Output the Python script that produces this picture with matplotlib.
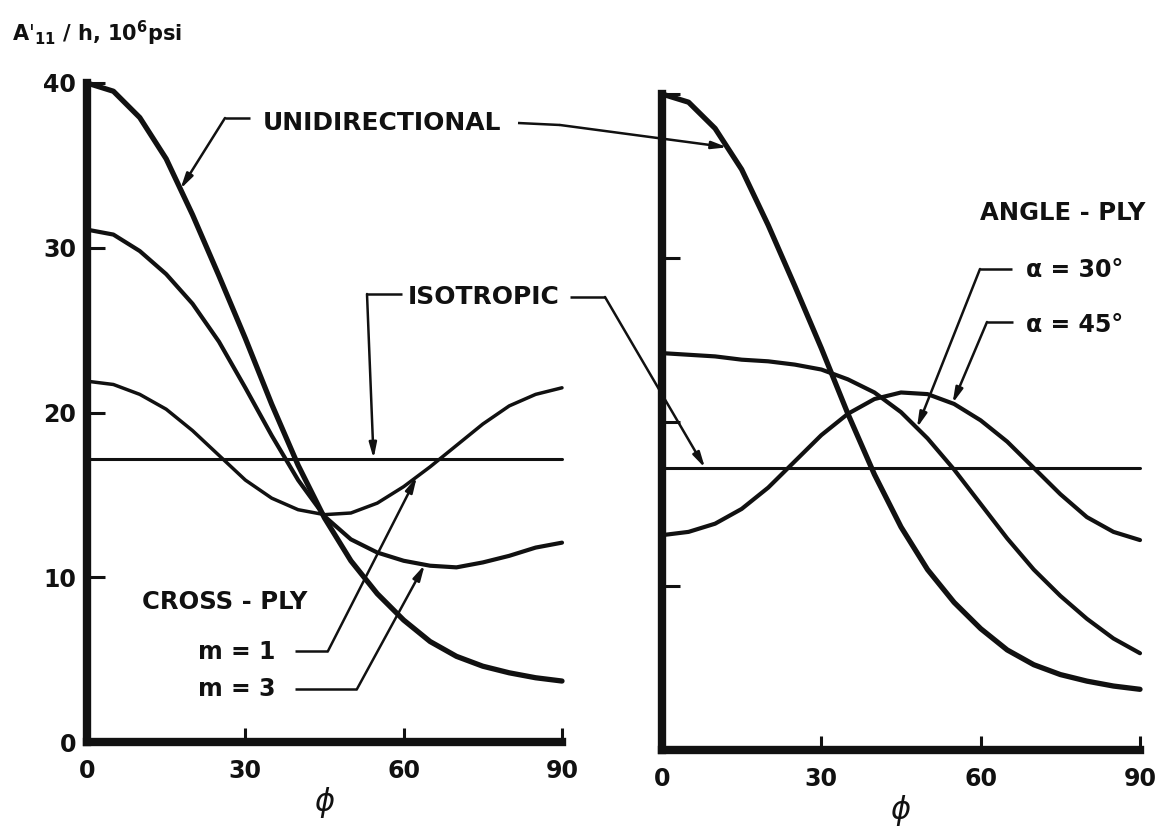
import numpy as np
import matplotlib
matplotlib.use("Agg")
import matplotlib.pyplot as plt
from matplotlib.lines import Line2D

# ---------------- data ----------------
PHI = [0, 5, 10, 15, 20, 25, 30, 35, 40, 45, 50, 55, 60, 65, 70, 75, 80, 85, 90]
UNIDIRECTIONAL = [40.0, 39.5, 37.9, 35.4, 32.0, 28.3, 24.5, 20.5, 16.8, 13.6,
                  11.0, 9.0, 7.4, 6.1, 5.2, 4.6, 4.2, 3.9, 3.7]
CROSS_PLY_M1 = [21.9, 21.7, 21.1, 20.2, 18.9, 17.4, 15.9, 14.8, 14.1, 13.8,
                13.9, 14.5, 15.5, 16.7, 18.0, 19.3, 20.4, 21.1, 21.5]
CROSS_PLY_M3 = [31.1, 30.8, 29.8, 28.4, 26.6, 24.3, 21.5, 18.6, 15.9, 13.7,
                12.3, 11.5, 11.0, 10.7, 10.6, 10.9, 11.3, 11.8, 12.1]
ANGLE_PLY_30 = [24.2, 24.1, 24.0, 23.8, 23.7, 23.5, 23.2, 22.6, 21.8, 20.6,
                19.0, 17.1, 15.0, 12.9, 11.0, 9.4, 8.0, 6.8, 5.9]
ANGLE_PLY_45 = [13.1, 13.3, 13.8, 14.7, 16.0, 17.6, 19.2, 20.5, 21.4, 21.8,
                21.7, 21.1, 20.1, 18.8, 17.2, 15.6, 14.2, 13.3, 12.8]
ISO_PHI = [0, 90]
ISOTROPIC = [17.2, 17.2]

X_TICKS = [0, 30, 60, 90]
X_TICK_LABELS = ["0", "30", "60", "90"]
Y_TICKS = [0, 10, 20, 30, 40]
Y_TICK_LABELS = ["0", "10", "20", "30", "40"]

# ---------------- figure ----------------
K = "#111111"
W, H = 1155, 827
plt.rcParams["font.family"] = ["DejaVu Sans"]
plt.rcParams["mathtext.fontset"] = "dejavusans"
fig = plt.figure(figsize=(W / 100, H / 100), dpi=100)
fig.patch.set_facecolor("white")


def fx(x):
    return x / W


def fy(y):
    return 1 - y / H


ax1 = fig.add_axes([87 / W, 1 - 742 / H, 475 / W, 659 / H])
ax2 = fig.add_axes([662 / W, 1 - 750 / H, 478 / W, 656 / H])

for ax in (ax1, ax2):
    ax.set_xlim(0, 90)
    ax.set_ylim(0, 40)
    ax.patch.set_alpha(0)
    for s in ("top", "right"):
        ax.spines[s].set_visible(False)
    for s in ("left", "bottom"):
        ax.spines[s].set_linewidth(6)
        ax.spines[s].set_color(K)
        ax.spines[s].set_capstyle("projecting")
    ax.set_xticks(X_TICKS)
    ax.set_xticklabels(X_TICK_LABELS, fontsize=17, fontweight="bold")
    ax.set_yticks(Y_TICKS)
    ax.tick_params(axis="x", direction="in", length=10, width=2.2, color=K,
                   pad=12, labelcolor=K)
    ax.tick_params(axis="y", direction="in", length=13, width=2.2, color=K,
                   pad=8, labelcolor=K)
    ax.set_xlabel(r"$\phi$", fontsize=22, labelpad=2, color=K)

ax1.set_yticklabels(Y_TICK_LABELS, fontsize=17, fontweight="bold")
ax2.tick_params(axis="y", labelleft=False)

# ---------------- curves ----------------
kw = dict(color=K, solid_capstyle="round", solid_joinstyle="round", clip_on=False)
ax1.plot(PHI, UNIDIRECTIONAL, lw=3.8, **kw)
ax1.plot(PHI, CROSS_PLY_M3, lw=3.0, **kw)
ax1.plot(PHI, CROSS_PLY_M1, lw=2.5, **kw)
ax1.plot(ISO_PHI, ISOTROPIC, lw=2.2, **kw)

ax2.plot(PHI, UNIDIRECTIONAL, lw=3.8, **kw)
ax2.plot(PHI, ANGLE_PLY_30, lw=3.0, **kw)
ax2.plot(PHI, ANGLE_PLY_45, lw=3.0, **kw)
ax2.plot(ISO_PHI, ISOTROPIC, lw=2.2, **kw)


# ---------------- leaders ----------------
def leader(ax, pts_px, tip_phi, sx, sy):
    xs = [fx(p[0]) for p in pts_px]
    ys = [fy(p[1]) for p in pts_px]
    fig.add_artist(Line2D(xs, ys, lw=1.8, color=K, solid_capstyle="butt"))
    tip = (tip_phi, float(np.interp(tip_phi, sx, sy)))
    ax.annotate("", xy=tip, xycoords="data", xytext=(xs[-1], ys[-1]),
                textcoords="figure fraction",
                arrowprops=dict(arrowstyle="-|>,head_length=0.9,head_width=0.22",
                                lw=1.8, color=K, shrinkA=0, shrinkB=0),
                annotation_clip=False)


leader(ax1, [(250, 118), (225, 118)], 17.7, PHI, UNIDIRECTIONAL)
leader(ax2, [(518, 123), (560, 125)], 12.3, PHI, UNIDIRECTIONAL)
leader(ax1, [(402, 294), (367, 294)], 54.3, ISO_PHI, ISOTROPIC)
leader(ax2, [(570, 297), (605, 297)], 8.1, ISO_PHI, ISOTROPIC)
leader(ax1, [(295, 651), (328, 651)], 62.5, PHI, CROSS_PLY_M1)
leader(ax1, [(295, 689), (357, 689)], 64.0, PHI, CROSS_PLY_M3)
leader(ax2, [(1012, 269), (980, 269)], 48.0, PHI, ANGLE_PLY_30)
leader(ax2, [(1013, 322), (987, 322)], 54.7, PHI, ANGLE_PLY_45)

# ---------------- texts ----------------
tkw = dict(fontweight="bold", color=K, va="center")
fig.text(fx(382), fy(123), "UNIDIRECTIONAL", ha="center", fontsize=18, **tkw)
fig.text(fx(484), fy(297), "ISOTROPIC", ha="center", fontsize=18, **tkw)
fig.text(fx(225), fy(602), "CROSS - PLY", ha="center", fontsize=17.5, **tkw)
fig.text(fx(275), fy(652), "m = 1", ha="right", fontsize=17, **tkw)
fig.text(fx(275), fy(689), "m = 3", ha="right", fontsize=17, **tkw)
fig.text(fx(1063), fy(213), "ANGLE - PLY", ha="center", fontsize=17.5, **tkw)
fig.text(fx(1026), fy(270), "α = 30°", ha="left", fontsize=17, **tkw)
fig.text(fx(1026), fy(325), "α = 45°", ha="left", fontsize=17, **tkw)
fig.text(fx(12), fy(33), r"A$'_{\mathbf{11}}$ / h, 10$^{\mathbf{6}}$psi",
         ha="left", fontsize=15, fontweight="bold", color=K, va="center")

fig.savefig("out.png", dpi=100, facecolor="white")
